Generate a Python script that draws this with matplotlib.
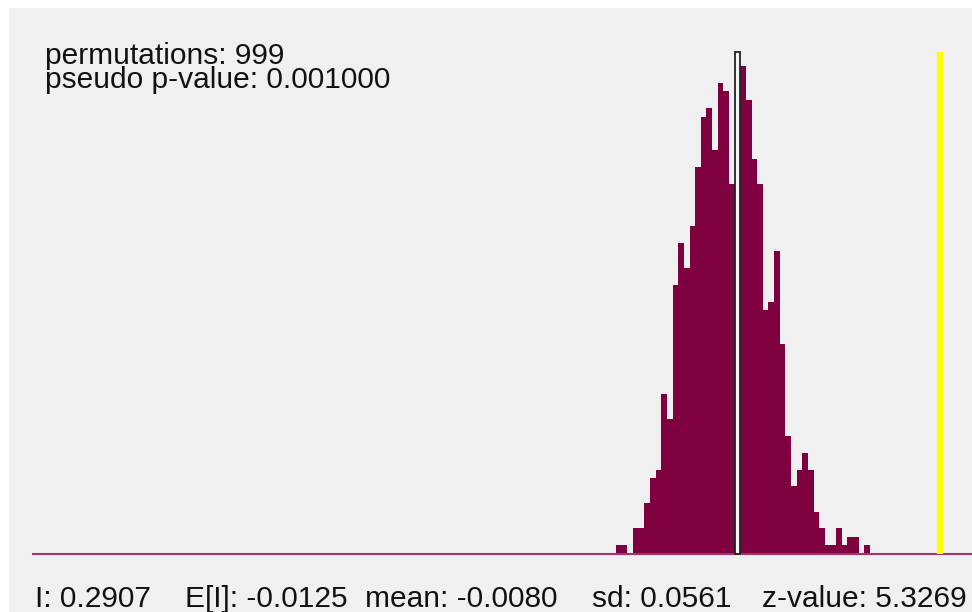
import numpy as np
import matplotlib.pyplot as plt
from matplotlib.patches import Rectangle

# permutation results
n_perm = 999
p_value = 0.001000
moran_i = 0.2907
expected_i = -0.0125
perm_mean = -0.0080
perm_sd = 0.0561
z_value = 5.3269

# histogram of the permuted statistics
bin_start = -0.1869
bin_width = 0.00832
counts = [1, 1, 0, 3, 3, 6, 9, 10, 19, 16, 32, 37, 34, 39, 46, 52, 53, 48, 56, 55, 44,
          58,
          58, 54, 47, 44, 29, 30, 36, 25, 14, 8, 10, 12, 10, 5, 3, 1, 1, 3, 1, 2, 2, 0, 1]
edges = bin_start + bin_width * np.arange(len(counts) + 1)

bar_color = '#7f003f'
bg = '#f0f0f0'
ytop = 59.7

fig = plt.figure(figsize=(9.72, 6.12), dpi=100)
fig.patch.set_facecolor('white')
fig.patches.append(Rectangle((9 / 972, 0), 1, 1 - 8 / 612, transform=fig.transFigure,
                             facecolor=bg, edgecolor='none', zorder=-10))

ax = fig.add_axes([33.3 / 972, (612 - 553.7) / 612, 1 - 33.3 / 972, 501.7 / 612])
ax.set_facecolor('none')
for s in ax.spines.values():
    s.set_visible(False)
ax.set_xticks([])
ax.set_yticks([])
ax.set_xlim(-1.0466, 0.3379)
ax.set_ylim(0, ytop)

ax.stairs(counts, edges, fill=True, color=bar_color, zorder=2)
ax.axhline(0, color='#a8336a', lw=1.5, zorder=3, clip_on=False)

# mean marker
ax.bar([perm_mean], [ytop], width=bin_width * 0.95, color='#f4f4f4',
       edgecolor='#222222', linewidth=1.3, zorder=4, clip_on=False)

# observed I
ax.axvline(moran_i, ymin=0, ymax=0.995, color='#ffff00', lw=4.5, zorder=4)

font = dict(family=['Liberation Sans', 'DejaVu Sans'], fontsize=21.5, color='#111111')
fig.text(45 / 972, 1 - 64 / 612, f'permutations: {n_perm}', va='baseline', **font)
fig.text(45 / 972, 1 - 88 / 612, f'pseudo p-value: {p_value:.6f}', va='baseline', **font)

stats = [f'I: {moran_i:.4f}', f'E[I]: {expected_i:.4f}', f'mean: {perm_mean:.4f}',
         f'sd: {perm_sd:.4f}', f'z-value: {z_value:.4f}']
stat_x = [35, 185, 365, 592, 762]
for label, x in zip(stats, stat_x):
    fig.text(x / 972, 1 - 607 / 612, label, va='baseline', **font)

fig.savefig('out.png', dpi=100)
